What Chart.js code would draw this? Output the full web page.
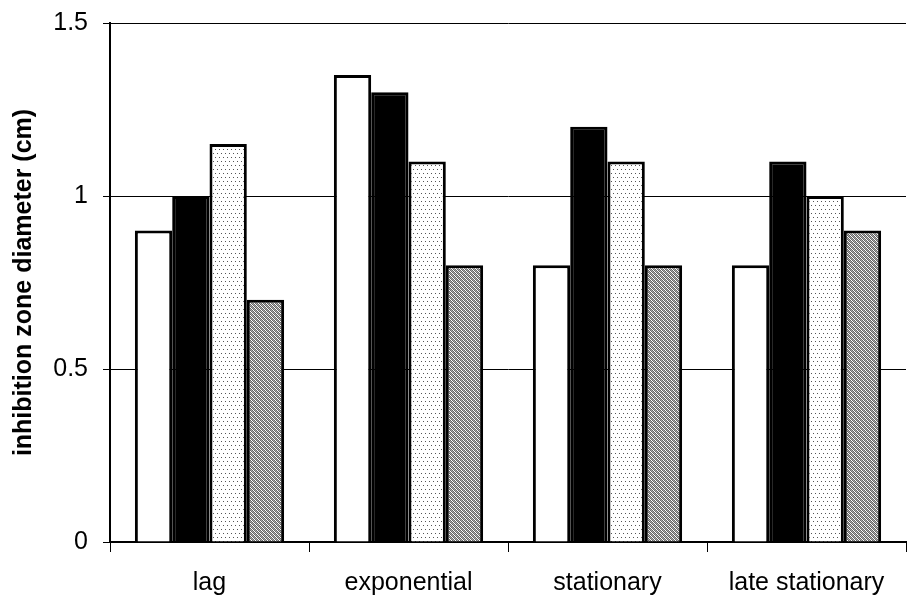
<!DOCTYPE html>
<html>
<head>
<meta charset="utf-8">
<script src="https://cdn.jsdelivr.net/npm/chart.js@4/dist/chart.umd.min.js"></script>
<style>
  html, body { margin: 0; padding: 0; background: #fff; }
  #wrap { width: 910px; height: 597px; }
</style>
</head>
<body>
<div id="wrap"><canvas id="myChart" width="910" height="597"></canvas></div>
<script>
const phases = ['lag', 'exponential', 'stationary', 'late stationary']
const seriesA = [0.9, 1.35, 0.8, 0.8]
const seriesB = [1.0, 1.3, 1.2, 1.1]
const seriesC = [1.15, 1.1, 1.1, 1.0]
const seriesD = [0.7, 0.8, 0.8, 0.9]
const yTicks = [0, 0.5, 1, 1.5]

// sparse staggered dots
function makeDots() {
  const c = document.createElement('canvas')
  c.width = 4
  c.height = 8
  const g = c.getContext('2d')
  g.fillStyle = '#fff'
  g.fillRect(0, 0, 4, 8)
  g.fillStyle = '#555'
  g.fillRect(1, 1, 1, 1)
  g.fillRect(3, 5, 1, 1)
  return g.createPattern(c, 'repeat')
}

// dense diagonal checker
function makeHatch() {
  const c = document.createElement('canvas')
  c.width = 4
  c.height = 4
  const g = c.getContext('2d')
  g.fillStyle = '#fff'
  g.fillRect(0, 0, 4, 4)
  for (let x = 0; x < 4; x++) {
    for (let y = 0; y < 4; y++) {
      if ((x + y) % 2 === 0) {
        g.fillStyle = '#666'
        g.fillRect(x, y, 1, 1)
      } else if ((x - y + 4) % 4 === 1) {
        g.fillStyle = '#aaa'
        g.fillRect(x, y, 1, 1)
      }
    }
  }
  return g.createPattern(c, 'repeat')
}

const el = document.getElementById('myChart')
const ctx = el.getContext('2d')

const makeSet = (data, fill) => ({
  data: data,
  backgroundColor: fill,
  borderColor: '#000',
  borderWidth: 3,
  borderSkipped: 'bottom',
  categoryPercentage: 0.75,
  barPercentage: 1.0,
})

const chart = new Chart(ctx, {
  type: 'bar',
  data: {
    labels: phases,
    datasets: [
      makeSet(seriesA, '#fff'),
      makeSet(seriesB, '#000'),
      makeSet(seriesC, makeDots()),
      makeSet(seriesD, makeHatch()),
    ],
  },
  options: {
    responsive: false,
    animation: false,
    layout: { padding: { top: 23, right: 4, left: 0, bottom: 0 } },
    plugins: {
      legend: { display: false },
      tooltip: { enabled: false },
    },
    scales: {
      x: {
        grid: {
          offset: true,
          drawOnChartArea: false,
          color: '#000',
          tickLength: 10,
        },
        border: { color: '#000', width: 2 },
        ticks: {
          color: '#000',
          padding: 16,
          font: { family: 'Liberation Sans, Arial', size: 25 },
        },
        afterFit: (s) => { s.height = 55 },
      },
      y: {
        min: 0,
        max: 1.5,
        afterBuildTicks: (s) => { s.ticks = yTicks.map((v) => ({ value: v })) },
        grid: {
          color: '#000',
          lineWidth: 1,
          tickLength: 7,
        },
        border: { color: '#000', width: 2 },
        ticks: {
          color: '#000',
          padding: 15,
          font: { family: 'Liberation Sans, Arial', size: 25 },
          callback: (v) => String(v),
        },
        title: {
          display: true,
          text: 'inhibition zone diameter (cm)',
          color: '#000',
          font: { family: 'Liberation Sans, Arial', size: 25, weight: 'bold' },
          padding: { top: 9, bottom: 0 },
        },
        afterFit: (s) => {
          s.width = 110
          s.paddingTop = 0
          s.paddingBottom = 0
        },
      },
    },
  },
})
</script>
</body>
</html>
